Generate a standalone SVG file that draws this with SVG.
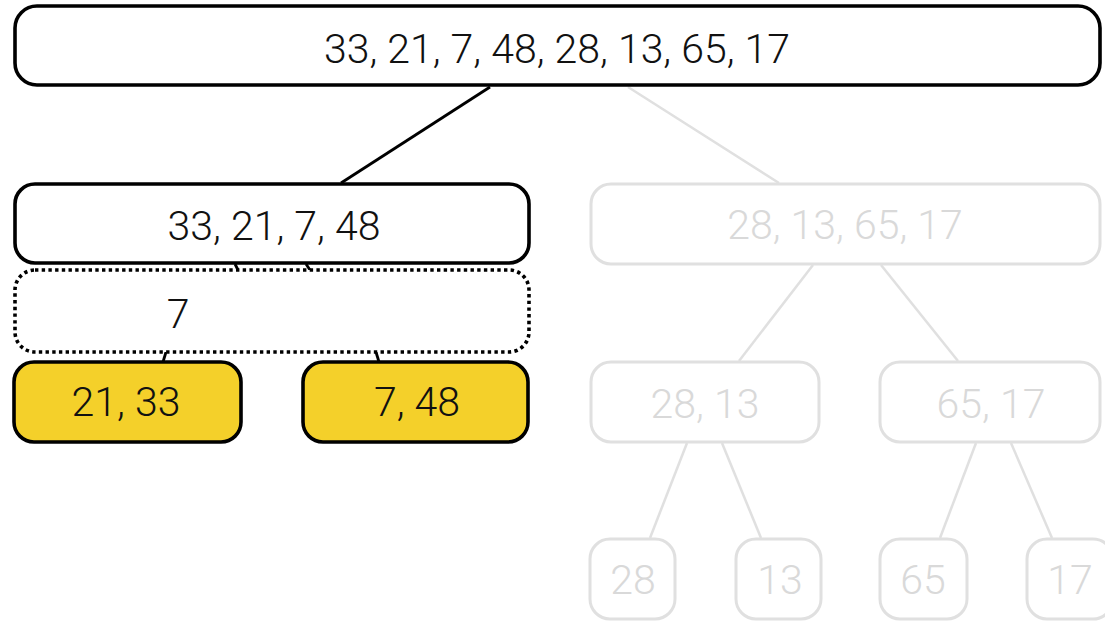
<svg xmlns="http://www.w3.org/2000/svg" width="1105" height="622" viewBox="0 0 1105 622">
<style>
.b{fill:#fff;stroke:#000;stroke-width:3.6}
.y{fill:#f4d02a;stroke:#000;stroke-width:3.6}
.d{fill:#fff;stroke:#000;stroke-width:3.6;stroke-dasharray:3.4 3.3}
.g{fill:#fff;stroke:#e0e0e0;stroke-width:3}
.t{font-family:Roboto,"Liberation Sans",sans-serif;font-weight:300;font-size:41px;text-anchor:middle;fill:#111}
.tg{font-family:Roboto,"Liberation Sans",sans-serif;font-weight:300;font-size:41px;text-anchor:middle;fill:#d9d9d9}
.cb{stroke:#000;stroke-width:2.8;fill:none}
.cg{stroke:#e0e0e0;stroke-width:2.5;fill:none}
</style>
<rect width="1105" height="622" fill="#fff"/>
<g id="connectors">
<line class="cb" x1="490" y1="87" x2="341" y2="183"/>
<line class="cg" x1="628" y1="87" x2="779" y2="183"/>
<line class="cb" x1="235" y1="264" x2="238" y2="270"/>
<line class="cb" x1="306" y1="264" x2="310" y2="270"/>
<line class="cb" x1="166" y1="352" x2="163" y2="362"/>
<line class="cb" x1="376" y1="352" x2="379" y2="362"/>
<line class="cg" x1="813" y1="265" x2="739" y2="361"/>
<line class="cg" x1="881" y1="265" x2="958" y2="361"/>
<line class="cg" x1="687" y1="443" x2="650" y2="538"/>
<line class="cg" x1="722" y1="443" x2="761" y2="538"/>
<line class="cg" x1="976" y1="443" x2="940" y2="538"/>
<line class="cg" x1="1011" y1="443" x2="1052" y2="538"/>
</g>
<g id="root">
<rect class="b" x="15" y="6" width="1085" height="79" rx="22"/>
<text class="t" x="557" y="63">33, 21, 7, 48, 28, 13, 65, 17</text>
</g>
<g id="left">
<rect class="b" x="15" y="184" width="514" height="79" rx="20"/>
<text class="t" x="274" y="240">33, 21, 7, 48</text>
</g>
<g id="pivot">
<rect class="d" x="15" y="270" width="514" height="82" rx="20"/>
<text class="t" x="178" y="328">7</text>
</g>
<g id="left-left">
<rect class="y" x="14" y="362" width="227" height="80" rx="20"/>
<text class="t" x="126" y="416">21, 33</text>
</g>
<g id="left-right">
<rect class="y" x="303" y="362" width="225" height="80" rx="20"/>
<text class="t" x="417" y="416">7, 48</text>
</g>
<g id="right">
<rect class="g" x="591" y="184" width="509" height="80" rx="20"/>
<text class="tg" x="845" y="239">28, 13, 65, 17</text>
</g>
<g id="right-left">
<rect class="g" x="591" y="362" width="228" height="80" rx="20"/>
<text class="tg" x="705" y="418">28, 13</text>
</g>
<g id="right-right">
<rect class="g" x="880" y="362" width="220" height="80" rx="20"/>
<text class="tg" x="991" y="418">65, 17</text>
</g>
<g id="leaf-28">
<rect class="g" x="590" y="539" width="85" height="80" rx="20"/>
<text class="tg" x="633" y="594">28</text>
</g>
<g id="leaf-13">
<rect class="g" x="736" y="539" width="85" height="80" rx="20"/>
<text class="tg" x="780" y="594">13</text>
</g>
<g id="leaf-65">
<rect class="g" x="880" y="539" width="87" height="80" rx="20"/>
<text class="tg" x="923" y="594">65</text>
</g>
<g id="leaf-17">
<rect class="g" x="1027" y="539" width="86" height="80" rx="20"/>
<text class="tg" x="1070" y="594">17</text>
</g>
</svg>
